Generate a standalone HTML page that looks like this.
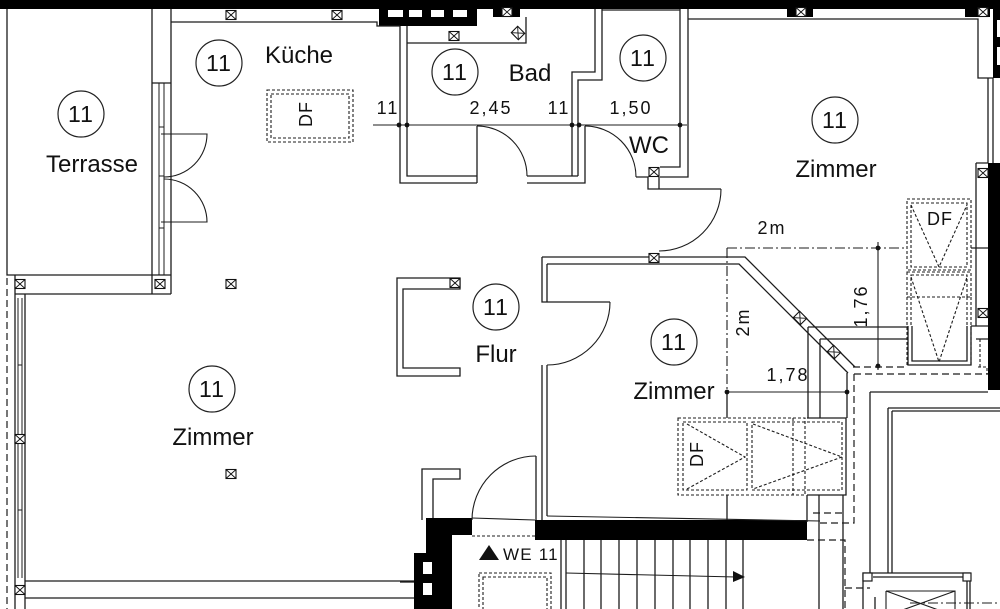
<!DOCTYPE html>
<html><head><meta charset="utf-8"><style>
html,body{margin:0;padding:0;background:#fff;}
svg{display:block}
.t{font-family:"Liberation Sans",sans-serif;fill:#111}
</style></head><body>
<svg width="1000" height="609" viewBox="0 0 1000 609" xmlns="http://www.w3.org/2000/svg">
<defs>
<g id="v"><rect x="-5" y="-4.5" width="10" height="9" fill="#fff" stroke="#111" stroke-width="1.1"/><path d="M-5 -4.5L5 4.5M5 -4.5L-5 4.5" stroke="#111" stroke-width="0.9" fill="none"/></g>
</defs>

<!-- black walls -->
<g fill="#000">
<rect x="0" y="0" width="1000" height="9"/>
<rect x="379" y="0" width="98" height="26"/>
<rect x="493" y="0" width="27" height="17"/>
<rect x="787" y="0" width="26" height="17"/>
<rect x="965" y="0" width="25" height="17"/>
<rect x="993" y="0" width="7" height="78"/>
<rect x="988" y="163" width="12" height="227"/>
<rect x="426" y="518" width="46" height="17"/>
<rect x="426" y="518" width="26" height="91"/>
<rect x="414" y="553" width="12" height="56"/>
<rect x="535" y="520" width="272" height="20"/>
</g>
<g fill="#fff">
<rect x="388" y="10" width="15" height="7"/>
<rect x="409" y="10" width="13" height="7"/>
<rect x="431" y="10" width="13" height="7"/>
<rect x="453" y="10" width="14" height="7"/>
<rect x="997" y="20" width="3" height="17"/>
<rect x="997" y="47" width="3" height="18"/>
<rect x="423" y="562" width="9" height="12"/>
<rect x="423" y="583" width="9" height="12"/>
</g>

<!-- solid lines -->
<g fill="none" stroke="#1c1c1c" stroke-width="1.3">
<path d="M7 9V275H171"/>
<path d="M152 9V294M171 9V294M152 83H171"/>
<path d="M159 83V275M164 83V275M159 127H164M159 176H164M159 228H164" stroke-width="1"/>
<path d="M171 22H377V26H400"/>
<path d="M15 275V609M15 294H171M25 294V609"/>
<path d="M18 298V578M22 298V578M18 365H22M18 440H22M18 510H22" stroke-width="1"/>
<path d="M25 581H414M25 598H414"/>
<path d="M161 134H207A43 43 0 0 1 164 177" stroke-width="1.1"/>
<path d="M164 179A43 43 0 0 1 207 222H161" stroke-width="1.1"/>

<path d="M400 26V183H477M407 26V176H477M407 43H526V17"/>
<path d="M477 126V183"/>
<path d="M477 126A50 50 0 0 1 527 176" stroke-width="1.1"/>
<path d="M527 176H578M527 183H585V126"/>
<path d="M572 176V72H595V9M578 176V80H602V9"/>

<path d="M602 10H680M680 9V167H660M688 9V177H660"/>
<path d="M585 126A51 51 0 0 1 636 177" stroke-width="1.1"/>
<path d="M636 177H648V189H721M659 177V189"/>
<path d="M721 189A62 62 0 0 1 659 251" stroke-width="1.1"/>

<path d="M373 125H687" stroke-width="1.1"/>

<path d="M688 19H978V78H993M988 78V163M993 78V163M976 163H988M976 163V326"/>

<path d="M542 257H745L855 367M547 264H739L848 373"/>
<path d="M542 257V302H610M547 264V302"/>
<path d="M610 302A63 63 0 0 1 547 365" stroke-width="1.1"/>
<path d="M542 365V520M547 365V516M536 456V520"/>
<path d="M536 456A64 64 0 0 0 472 520" stroke-width="1.1"/>

<path d="M460 278H397V376H460V368H403V289H460Z"/>
<path d="M422 520V469H460V479H433V518"/>

<path d="M808 327V418M820 339V418M808 327H908M820 339H908M971 326H988M976 339H988"/>
<path d="M847 373V418M807 418H846V495H807M807 495V522M819 495V609M843 495V609"/>
<path d="M727 392V418M727 495V520"/>
<path d="M971 248H988"/>
<path d="M908 326V365H971V326M912 326V361H967V326"/>

<path d="M870 392V573M870 392H988M888 408V573M892 411V573M888 408H1000M892 411H1000"/>
<path d="M863 609V573H970V609M873 577H963M967 581V609M875 597V609"/>
<path d="M886 591H955V612M886 591V612M886 591L955 616M955 591L886 616" stroke-width="1.1"/>

<path d="M472 518L535 520M547 516L820 521" stroke-width="1.1"/>
<path d="M561 540V609M566 540V609M584 540V609M601 540V609M619 540V609M637 540V609M655 540V609M673 540V609M690 540V609M708 540V609M726 540V609M743 540V609"/>
<path d="M566 573L736 577" stroke-width="1.1"/>
<path d="M400 582H414"/>

<path d="M727 392H847M878 242V370" stroke-width="1.1"/>
</g>
<polygon points="733,571 745,577 733,582" fill="#111"/>
<rect x="863" y="573" width="9" height="8" fill="#fff" stroke="#1c1c1c" stroke-width="1.2"/>
<rect x="963" y="573" width="8" height="8" fill="#fff" stroke="#1c1c1c" stroke-width="1.2"/>

<g fill="#111">
<circle cx="399" cy="125" r="2.4"/><circle cx="407" cy="125" r="2.4"/>
<circle cx="572" cy="125" r="2.4"/><circle cx="579" cy="125" r="2.4"/>
<circle cx="680" cy="125" r="2.4"/>
<circle cx="727" cy="392" r="2.4"/><circle cx="847" cy="392" r="2.4"/>
<circle cx="878" cy="248" r="2.4"/><circle cx="878" cy="366" r="2.4"/>
</g>

<g fill="none" stroke="#1c1c1c" stroke-width="1.1" stroke-dasharray="3 2">
<rect x="267" y="90" width="86" height="52"/>
<rect x="271" y="94" width="78" height="44"/>
<rect x="678" y="418" width="127" height="77"/>
<rect x="683" y="422" width="64" height="68"/>
<rect x="752" y="422" width="90" height="68"/>
<path d="M793 418V495"/>
<path d="M687 424L745 457L687 489M753 424L842 457L753 489"/>
<rect x="907" y="199" width="64" height="71"/>
<rect x="911" y="203" width="56" height="64"/>
<path d="M911 205L939 267L967 205"/>
<rect x="907" y="272" width="64" height="25"/>
<rect x="911" y="275" width="56" height="22"/>
<path d="M907 297V365M971 297V365M911 297V326M967 297V326"/>
<path d="M911 277L939 362L967 277"/>
<rect x="479" y="573" width="72" height="45"/>
<rect x="483" y="577" width="64" height="40"/>
<path d="M472 536H535"/>
<path d="M980 339V367M978 367H987V374"/>
</g>
<g fill="none" stroke="#1c1c1c" stroke-width="1.2" stroke-dasharray="7 4">
<path d="M7 278V609"/>
<path d="M853 367H907"/>
<path d="M854 374H988M854 374V523H820M813 513H845M807 540H845V609M845 588H870"/>
</g>
<g fill="none" stroke="#1c1c1c" stroke-width="1.1" stroke-dasharray="10 3 2 3">
<path d="M727 248H907M727 248V392"/>
<path d="M910 603H1000"/>
</g>

<use href="#v" x="231" y="15"/>
<use href="#v" x="337" y="15"/>
<use href="#v" x="507" y="12"/>
<use href="#v" x="454" y="36"/>
<use href="#v" x="801" y="12"/>
<use href="#v" x="983" y="12"/>
<use href="#v" x="654" y="172"/>
<use href="#v" x="654" y="258"/>
<use href="#v" x="20" y="284"/>
<use href="#v" x="160" y="284"/>
<use href="#v" x="231" y="284"/>
<use href="#v" x="20" y="439"/>
<use href="#v" x="20" y="590"/>
<use href="#v" x="455" y="283"/>
<use href="#v" x="231" y="474"/>
<use href="#v" x="983" y="173"/>
<use href="#v" x="983" y="313"/>
<use href="#v" transform="translate(800 318) rotate(45)"/>
<use href="#v" transform="translate(834 352) rotate(45)"/>
<use href="#v" transform="translate(518 33) rotate(45)"/>

<g fill="none" stroke="#222" stroke-width="1.2">
<circle cx="81" cy="114" r="23"/>
<circle cx="219" cy="63" r="23"/>
<circle cx="455" cy="72" r="23"/>
<circle cx="643" cy="58" r="23"/>
<circle cx="835" cy="120" r="23"/>
<circle cx="496" cy="307" r="23"/>
<circle cx="674" cy="342" r="23"/>
<circle cx="212" cy="389" r="23"/>
</g>
<g class="t" font-size="23" text-anchor="middle" letter-spacing="1">
<text x="81" y="122">11</text>
<text x="219" y="71">11</text>
<text x="455" y="80">11</text>
<text x="643" y="66">11</text>
<text x="835" y="128">11</text>
<text x="496" y="315">11</text>
<text x="674" y="350">11</text>
<text x="212" y="397">11</text>
</g>
<g class="t" font-size="24" text-anchor="middle">
<text x="92" y="172">Terrasse</text>
<text x="299" y="63">Küche</text>
<text x="530" y="81">Bad</text>
<text x="649" y="153">WC</text>
<text x="836" y="177">Zimmer</text>
<text x="496" y="362">Flur</text>
<text x="674" y="399">Zimmer</text>
<text x="213" y="445">Zimmer</text>
</g>
<g class="t" font-size="18" text-anchor="middle" letter-spacing="2">
<text x="388" y="114">11</text>
<text x="491" y="114">2,45</text>
<text x="559" y="114">11</text>
<text x="631" y="114">1,50</text>
<text x="772" y="234">2m</text>
<text x="788" y="381">1,78</text>
<text x="940" y="225" letter-spacing="1">DF</text>
<text transform="translate(312 114) rotate(-90)" letter-spacing="1">DF</text>
<text transform="translate(703 454) rotate(-90)" letter-spacing="1">DF</text>
<text transform="translate(749 322) rotate(-90)">2m</text>
<text transform="translate(867 306) rotate(-90)">1,76</text>
</g>
<polygon points="479,560 489,545 499,560" fill="#111"/>
<text class="t" x="503" y="560" font-size="17" letter-spacing="1.2">WE 11</text>
</svg>
</body></html>
